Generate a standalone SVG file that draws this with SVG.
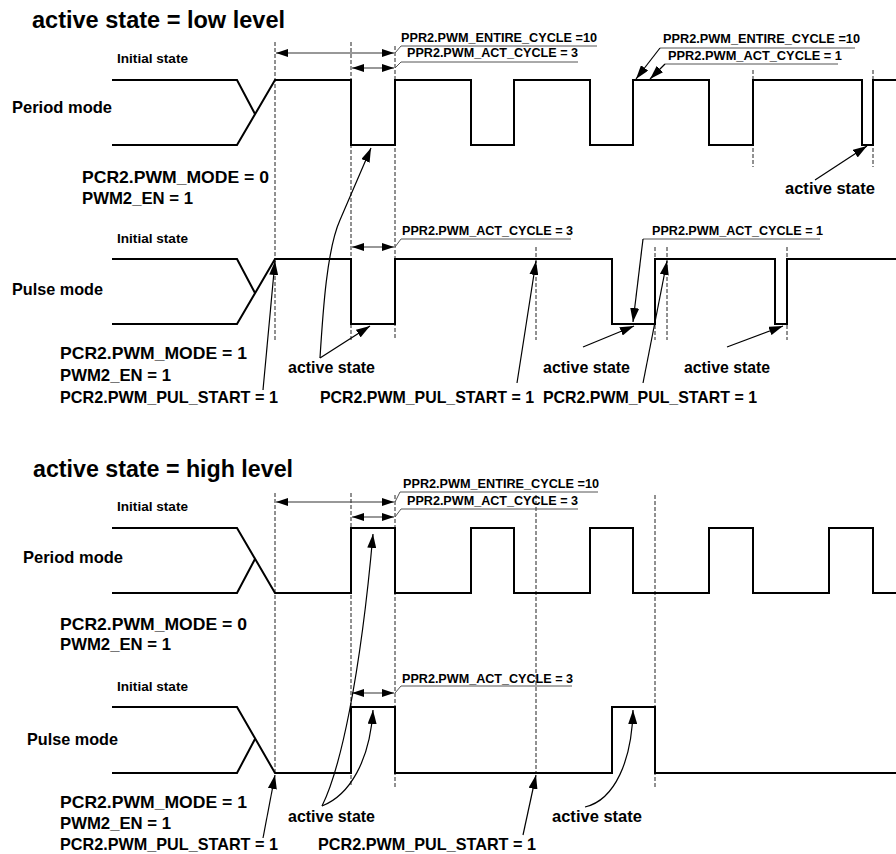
<svg xmlns="http://www.w3.org/2000/svg" width="896" height="854" viewBox="0 0 896 854">
<defs>
<marker id="ah" viewBox="0 0 12 8" markerUnits="userSpaceOnUse" markerWidth="12" markerHeight="8" refX="12" refY="4" orient="auto-start-reverse"><path d="M0,0 L12,4 L0,8 z" fill="#000"/></marker>
<marker id="ahb" viewBox="0 0 14 9" markerUnits="userSpaceOnUse" markerWidth="14" markerHeight="9" refX="14" refY="4.5" orient="auto-start-reverse"><path d="M0,0 L14,4.5 L0,9 z" fill="#000"/></marker>
</defs>
<style>
.wave{fill:none;stroke:#000;stroke-width:2;stroke-linejoin:miter}
.dash{stroke:#222;stroke-width:1;stroke-dasharray:4 2;fill:none}
.dim{stroke:#333;stroke-width:1.2;fill:none}
.lead{stroke:#555;stroke-width:1;fill:none}
.arr{stroke:#000;stroke-width:1.2;fill:none}
text{font-family:"Liberation Sans",Arial,sans-serif;font-weight:bold;fill:#000}
.t{font-size:23.5px}
.m{font-size:16.5px}
.r{font-size:17px}
.s{font-size:13px}
.p{font-size:12.5px}
.a{font-size:16px}
</style>
<rect width="896" height="854" fill="#fff"/>

<!-- ================= LOW LEVEL SECTION ================= -->
<g id="title-low"><text class="t" x="32" y="28" textLength="253" lengthAdjust="spacingAndGlyphs">active state = low level</text></g>

<g id="guides-low">
<line class="dash" x1="275" y1="42" x2="275" y2="340"/>
<line class="dash" x1="351" y1="42" x2="351" y2="340"/>
<line class="dash" x1="395" y1="46" x2="395" y2="340"/>
<line class="dash" x1="753" y1="70" x2="753" y2="167"/>
<line class="dash" x1="873" y1="70" x2="873" y2="167"/>
<line class="dash" x1="536" y1="247" x2="536" y2="340"/>
<line class="dash" x1="655" y1="247" x2="655" y2="340"/>
<line class="dash" x1="667" y1="247" x2="667" y2="340"/>
<line class="dash" x1="787" y1="247" x2="787" y2="340"/>
</g>

<g id="period-low">
<text class="s" x="117" y="63" textLength="71" lengthAdjust="spacingAndGlyphs">Initial state</text>
<text class="m" x="12" y="113" textLength="100" lengthAdjust="spacingAndGlyphs">Period mode</text>
<path class="wave" d="M112,80 H237 L255,114"/>
<path class="wave" d="M112,145 H237 L275,80 H351 V145 H395 V80 H471 V145 H514 V80 H590 V145 H633 V80 H709 V145 H753 V80 H862 V145 H873 V80 H896"/>
<text class="r" x="82" y="183" textLength="187" lengthAdjust="spacingAndGlyphs">PCR2.PWM_MODE = 0</text>
<text class="r" x="82" y="204" textLength="111" lengthAdjust="spacingAndGlyphs">PWM2_EN = 1</text>
</g>

<g id="period-low-labels">
<text class="p" x="401" y="42" textLength="196" lengthAdjust="spacingAndGlyphs">PPR2.PWM_ENTIRE_CYCLE =10</text>
<text class="p" x="407" y="57" textLength="171" lengthAdjust="spacingAndGlyphs">PPR2.PWM_ACT_CYCLE = 3</text>
<text class="p" x="663" y="43" textLength="197" lengthAdjust="spacingAndGlyphs">PPR2.PWM_ENTIRE_CYCLE =10</text>
<text class="p" x="668" y="60" textLength="174" lengthAdjust="spacingAndGlyphs">PPR2.PWM_ACT_CYCLE = 1</text>
<text class="a" x="785" y="194" textLength="90" lengthAdjust="spacingAndGlyphs">active state</text>
</g>

<g id="pulse-low">
<text class="s" x="117" y="243" textLength="71" lengthAdjust="spacingAndGlyphs">Initial state</text>
<text class="m" x="12" y="295" textLength="91" lengthAdjust="spacingAndGlyphs">Pulse mode</text>
<path class="wave" d="M112,259 H237 L255,293"/>
<path class="wave" d="M112,324 H237 L275,259 H351 V324 H395 V259 H612 V324 H655 V259 H775 V324 H787 V259 H896"/>
<text class="r" x="60" y="359" textLength="187" lengthAdjust="spacingAndGlyphs">PCR2.PWM_MODE = 1</text>
<text class="r" x="60" y="381" textLength="111" lengthAdjust="spacingAndGlyphs">PWM2_EN = 1</text>
<text class="r" x="60" y="403" textLength="218" lengthAdjust="spacingAndGlyphs">PCR2.PWM_PUL_START = 1</text>
<text class="r" x="320" y="403" textLength="214" lengthAdjust="spacingAndGlyphs">PCR2.PWM_PUL_START = 1</text>
<text class="r" x="543" y="403" textLength="214" lengthAdjust="spacingAndGlyphs">PCR2.PWM_PUL_START = 1</text>
<text class="a" x="288" y="373" textLength="87" lengthAdjust="spacingAndGlyphs">active state</text>
<text class="a" x="543" y="373" textLength="87" lengthAdjust="spacingAndGlyphs">active state</text>
<text class="a" x="684" y="373" textLength="86" lengthAdjust="spacingAndGlyphs">active state</text>
<text class="p" x="402" y="235" textLength="171" lengthAdjust="spacingAndGlyphs">PPR2.PWM_ACT_CYCLE = 3</text>
<text class="p" x="652" y="235" textLength="171" lengthAdjust="spacingAndGlyphs">PPR2.PWM_ACT_CYCLE = 1</text>
</g>

<!-- ================= HIGH LEVEL SECTION ================= -->
<g id="title-high"><text class="t" x="33" y="477" textLength="260" lengthAdjust="spacingAndGlyphs">active state = high level</text></g>

<g id="guides-high">
<line class="dash" x1="275" y1="493" x2="275" y2="773"/>
<line class="dash" x1="351" y1="493" x2="351" y2="787"/>
<line class="dash" x1="395" y1="495" x2="395" y2="787"/>
<line class="dash" x1="536" y1="495" x2="536" y2="773"/>
<line class="dash" x1="655" y1="495" x2="655" y2="788"/>
</g>

<g id="period-high">
<text class="s" x="117" y="511" textLength="71" lengthAdjust="spacingAndGlyphs">Initial state</text>
<text class="m" x="23" y="563" textLength="100" lengthAdjust="spacingAndGlyphs">Period mode</text>
<path class="wave" d="M112,593 H237 L255,559"/>
<path class="wave" d="M112,528 H237 L275,593 H351 V528 H395 V593 H471 V528 H514 V593 H590 V528 H633 V593 H709 V528 H753 V593 H829 V528 H873 V593 H896"/>
<text class="r" x="60" y="630" textLength="187" lengthAdjust="spacingAndGlyphs">PCR2.PWM_MODE = 0</text>
<text class="r" x="60" y="650" textLength="111" lengthAdjust="spacingAndGlyphs">PWM2_EN = 1</text>
<text class="p" x="403" y="488" textLength="196" lengthAdjust="spacingAndGlyphs">PPR2.PWM_ENTIRE_CYCLE =10</text>
<text class="p" x="407" y="505" textLength="171" lengthAdjust="spacingAndGlyphs">PPR2.PWM_ACT_CYCLE = 3</text>
</g>

<g id="pulse-high">
<text class="s" x="117" y="691" textLength="71" lengthAdjust="spacingAndGlyphs">Initial state</text>
<text class="m" x="27" y="745" textLength="91" lengthAdjust="spacingAndGlyphs">Pulse mode</text>
<path class="wave" d="M112,773 H237 L255,739"/>
<path class="wave" d="M112,707 H237 L275,773 H351 V707 H395 V773 H612 V707 H655 V773 H896"/>
<text class="r" x="60" y="808" textLength="187" lengthAdjust="spacingAndGlyphs">PCR2.PWM_MODE = 1</text>
<text class="r" x="60" y="829" textLength="111" lengthAdjust="spacingAndGlyphs">PWM2_EN = 1</text>
<text class="r" x="60" y="850" textLength="218" lengthAdjust="spacingAndGlyphs">PCR2.PWM_PUL_START = 1</text>
<text class="r" x="318" y="850" textLength="218" lengthAdjust="spacingAndGlyphs">PCR2.PWM_PUL_START = 1</text>
<text class="a" x="288" y="822" textLength="87" lengthAdjust="spacingAndGlyphs">active state</text>
<text class="a" x="552" y="822" textLength="90" lengthAdjust="spacingAndGlyphs">active state</text>
<text class="p" x="402" y="683" textLength="171" lengthAdjust="spacingAndGlyphs">PPR2.PWM_ACT_CYCLE = 3</text>
</g>

<!-- ================= CONNECTORS ================= -->
<g id="connectors">
<!-- dimension arrows -->
<line class="dim" x1="276" y1="53" x2="394" y2="53" marker-start="url(#ah)" marker-end="url(#ah)"/>
<line class="dim" x1="352" y1="68" x2="394" y2="68" marker-start="url(#ah)" marker-end="url(#ah)"/>
<line class="dim" x1="352" y1="247" x2="394" y2="247" marker-start="url(#ah)" marker-end="url(#ah)"/>
<line class="dim" x1="276" y1="502" x2="394" y2="502" marker-start="url(#ah)" marker-end="url(#ah)"/>
<line class="dim" x1="352" y1="517" x2="394" y2="517" marker-start="url(#ah)" marker-end="url(#ah)"/>
<line class="dim" x1="352" y1="693" x2="394" y2="693" marker-start="url(#ah)" marker-end="url(#ah)"/>
<!-- label leaders -->
<polyline class="lead" points="395,53 401,46 597,46"/>
<polyline class="lead" points="395,68 401,62 578,62"/>
<polyline class="lead" points="395,247 401,239 571,239"/>
<polyline class="lead" points="395,502 400,492 598,492"/>
<polyline class="lead" points="395,517 401,509 578,509"/>
<polyline class="lead" points="395,693 401,686 572,686"/>
<line class="lead" x1="660" y1="48" x2="855" y2="48"/>
<line class="lead" x1="665" y1="64" x2="838" y2="64"/>
<line class="lead" x1="643" y1="239" x2="820" y2="239"/>
<line class="arr" x1="660" y1="48" x2="636" y2="79" marker-end="url(#ahb)"/>
<line class="arr" x1="665" y1="64" x2="650" y2="79" marker-end="url(#ahb)"/>
<line class="arr" x1="643" y1="239" x2="633" y2="322" marker-end="url(#ahb)"/>
<!-- active state arrows -->
<line class="arr" x1="815" y1="180" x2="867" y2="146" marker-end="url(#ahb)"/>
<path class="arr" d="M320,358 C323,310 327,249 340,220 L371,148" marker-end="url(#ahb)"/>
<line class="arr" x1="320" y1="358" x2="370" y2="326" marker-end="url(#ahb)"/>
<line class="arr" x1="583" y1="347" x2="634" y2="326" marker-end="url(#ahb)"/>
<line class="arr" x1="727" y1="347" x2="783" y2="326" marker-end="url(#ahb)"/>
<path class="arr" d="M322,806 C340,770 360,680 373,534" marker-end="url(#ahb)"/>
<path class="arr" d="M322,806 C350,795 370,760 373,710" marker-end="url(#ahb)"/>
<path class="arr" d="M585,807 C615,800 632,760 633,710" marker-end="url(#ahb)"/>
<!-- PUL_START arrows -->
<line class="arr" x1="263" y1="390" x2="275" y2="261" marker-end="url(#ahb)"/>
<line class="arr" x1="517" y1="383" x2="536" y2="261" marker-end="url(#ahb)"/>
<line class="arr" x1="643" y1="383" x2="667" y2="261" marker-end="url(#ahb)"/>
<line class="arr" x1="263" y1="838" x2="275" y2="775" marker-end="url(#ahb)"/>
<line class="arr" x1="523" y1="835" x2="536" y2="775" marker-end="url(#ahb)"/>
</g>
</svg>
